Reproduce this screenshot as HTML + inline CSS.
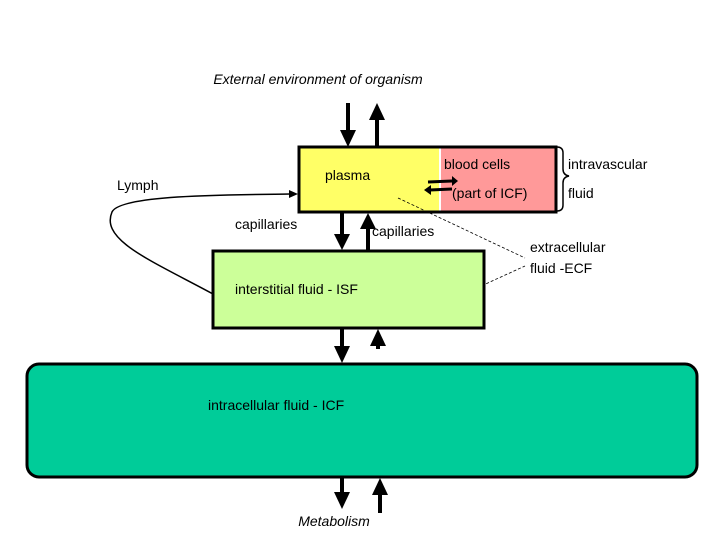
<!DOCTYPE html>
<html><head><meta charset="utf-8"><style>
html,body{margin:0;padding:0;background:#fff;}
svg{display:block;font-family:"Liberation Sans",sans-serif;}
</style></head><body>
<svg width="720" height="540" viewBox="0 0 720 540" xmlns="http://www.w3.org/2000/svg">
<defs>
<marker id="ah" markerWidth="10" markerHeight="10" refX="9" refY="5" orient="auto" markerUnits="userSpaceOnUse"><path d="M0,0 L10,5 L0,10 z" fill="#000"/></marker>
</defs>
<text x="318" y="84" font-size="14" font-style="italic" text-anchor="middle">External environment of organism</text>
<!-- plasma box -->
<rect x="299" y="147" width="140" height="65" fill="#ffff66"/>
<rect x="441" y="147" width="115" height="65" fill="#f99"/>
<rect x="299" y="147" width="257" height="65" fill="none" stroke="#000" stroke-width="3"/>
<text x="325" y="180" font-size="14">plasma</text>
<text x="444" y="169" font-size="14">blood cells</text>
<text x="452" y="198" font-size="14">(part of ICF)</text>
<!-- exchange arrows -->
<path d="M428,182 L452,181" stroke="#000" stroke-width="3"/><path d="M452,176 L458,181 L452,186z"/>
<path d="M430,190 L452,189" stroke="#000" stroke-width="3"/><path d="M431,185 L424,190 L431,195z"/>
<!-- brace -->
<path d="M557,147 q6,0 6,6 v16 q0,6 6,7 q-6,1 -6,7 v22 q0,6 -6,6" fill="none" stroke="#000" stroke-width="1.5"/>
<text x="568" y="169" font-size="14">intravascular</text>
<text x="568" y="198" font-size="14">fluid</text>
<text x="530" y="252" font-size="14">extracellular</text>
<text x="530" y="273" font-size="14">fluid -ECF</text>
<path d="M398,198 L525,258" stroke="#000" stroke-dasharray="3,2" stroke-width="0.8"/>
<path d="M468,292 L525,266" stroke="#000" stroke-dasharray="3,2" stroke-width="0.8"/>
<!-- ISF -->
<rect x="213" y="251" width="271" height="77" fill="#ccff99" stroke="#000" stroke-width="3"/>
<text x="235" y="294" font-size="14">interstitial fluid - ISF</text>
<text x="235" y="229" font-size="14">capillaries</text>
<text x="372" y="236" font-size="14">capillaries</text>
<text x="117" y="190" font-size="14">Lymph</text>
<!-- lymph curve -->
<path d="M213,294 C150,260 100,240 112,212 C120,195 220,195 290,194" fill="none" stroke="#000" stroke-width="1.5"/>
<path d="M289,190 L298,194 L289,198z"/>
<!-- ICF -->
<rect x="27" y="364" width="670" height="113" rx="12" fill="#00cc99" stroke="#000" stroke-width="3"/>
<text x="208" y="410" font-size="14">intracellular fluid - ICF</text>
<text x="334" y="526" font-size="14" font-style="italic" text-anchor="middle">Metabolism</text>
<!-- vertical arrows -->
<g stroke="#000" stroke-width="4">
<line x1="348" y1="103" x2="348" y2="132"/><line x1="377" y1="147" x2="377" y2="118"/>
<line x1="342" y1="212" x2="342" y2="236"/><line x1="368" y1="251" x2="368" y2="227"/>
<line x1="342" y1="328" x2="342" y2="348"/><line x1="378" y1="349" x2="378" y2="340"/>
<line x1="342" y1="477" x2="342" y2="494"/><line x1="380" y1="513" x2="380" y2="492"/>
</g>
<g fill="#000">
<path d="M340,130 L356,130 L348,147z"/><path d="M369,120 L385,120 L377,103z"/>
<path d="M334,234 L350,234 L342,250z"/><path d="M360,229 L376,229 L368,213z"/>
<path d="M334,346 L350,346 L342,363z"/><path d="M370,346 L386,346 L378,329z"/>
<path d="M334,492 L350,492 L342,509z"/><path d="M372,495 L388,495 L380,478z"/>
</g>
</svg>
</body></html>
